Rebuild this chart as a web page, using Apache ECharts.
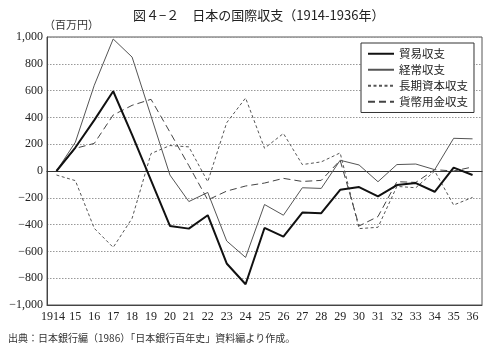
<!DOCTYPE html>
<html><head><meta charset="utf-8">
<script src="https://cdn.jsdelivr.net/npm/echarts@6/dist/echarts.min.js"></script>
<style>html,body{margin:0;padding:0;background:#fff;}#c{width:500px;height:355px;}</style>
</head><body><div id="c"></div>
<script>
const years = [1914,1915,1916,1917,1918,1919,1920,1921,1922,1923,1924,1925,1926,1927,1928,1929,1930,1931,1932,1933,1934,1935,1936];
const seriesNames = ['貿易収支','経常収支','長期資本収支','貨幣用金収支'];
const trade   = [0, 175, 380, 595, 270, -70, -410, -430, -330, -690, -845, -425, -490, -310, -315, -140, -120, -190, -105, -90, -155, 25, -30];
const current = [0, 215, 640, 985, 850, 410, -30, -228, -160, -522, -645, -250, -330, -125, -130, 80, 45, -80, 48, 52, 10, 244, 240];
const capital = [-30, -72, -428, -570, -353, 130, 190, 180, -80, 360, 545, 170, 280, 48, 68, 135, -430, -420, -115, -125, 0, -254, -197];
const gold    = [0, 169, 206, 418, 490, 535, 290, 40, -216, -150, -112, -90, -55, -78, -70, 80, -410, -340, -80, -85, 10, 0, 30];

const serif = '"Liberation Serif","DejaVu Serif",serif';
const cjk = '"Noto Sans CJK JP","Noto Sans",sans-serif';
const cats = years.map(String);
function fmtY(v){ const a=Math.abs(v); const s=a>=1000? (Math.floor(a/1000)+','+String(a%1000).padStart(3,'0')) : String(a); return (v<0?'−':'')+s; }

const chart = echarts.init(document.getElementById('c'), null, {renderer:'canvas'});
chart.setOption({
  backgroundColor:'#fff',
  animation:false,
  title:{ text:'図４−２　日本の国際収支（1914-1936年）', left:128, top:4,
    textStyle:{ fontFamily:cjk, fontSize:13, fontWeight:'normal', color:'#222'} },
  graphic:[
    {type:'text', left:44, top:19, style:{text:'（百万円）', font:'11px '+cjk, fill:'#333'}},
    {type:'text', left:8, top:333, style:{text:'出典：日本銀行編（1986）「日本銀行百年史」資料編より作成。', font:'10px '+cjk, fill:'#333'}}
  ],
  legend:{ orient:'vertical', left:361, top:43, data:seriesNames,
    itemWidth:26, itemHeight:12, itemGap:4.5, padding:[5,6,5,6],
    borderColor:'#333', borderWidth:1, backgroundColor:'#fff',
    itemStyle:{opacity:0, borderWidth:0},
    textStyle:{fontFamily:cjk, fontSize:11.5, color:'#222'} },
  grid:{ left:47, right:18, top:37, bottom:50, show:true, borderColor:'#555', borderWidth:1 },
  xAxis:[
    { type:'category', data:cats, boundaryGap:true, position:'bottom',
      axisLine:{onZero:false, lineStyle:{color:'#444'}},
      axisTick:{inside:true, alignWithLabel:true, length:4, lineStyle:{color:'#444'}},
      axisLabel:{ interval:0, margin:6, fontFamily:serif, fontSize:12, color:'#222',
        formatter:(v)=> v==='1914' ? '{a|1914}' : v.slice(2),
        rich:{ a:{ fontFamily:serif, fontSize:12, color:'#222', padding:[0,7,0,0] } } },
      splitLine:{show:false} },
    { type:'category', data:cats, boundaryGap:true, position:'bottom',
      axisLine:{onZero:true, lineStyle:{color:'#333', width:1.2}},
      axisTick:{inside:true, alignWithLabel:true, length:4, lineStyle:{color:'#444'}},
      axisLabel:{show:false}, splitLine:{show:false} }
  ],
  yAxis:{ type:'value', min:-1000, max:1000, interval:200,
    axisLine:{show:true, lineStyle:{color:'#444'}},
    axisTick:{show:false},
    axisLabel:{ fontFamily:serif, fontSize:12, color:'#222', margin:4, formatter:fmtY },
    splitLine:{ show:true, lineStyle:{color:'#999', type:[1.5,1.5], width:1} } },
  series:[
    { name:seriesNames[0], type:'line', data:trade, symbol:'none', xAxisIndex:0,
      lineStyle:{color:'#111', width:2}, itemStyle:{color:'#111'}, z:5 },
    { name:seriesNames[1], type:'line', data:current, symbol:'none', xAxisIndex:0,
      lineStyle:{color:'#555', width:1}, itemStyle:{color:'#555'}, z:4 },
    { name:seriesNames[2], type:'line', data:capital, symbol:'none', xAxisIndex:0,
      lineStyle:{color:'#555', width:1, type:[3,2.5]}, itemStyle:{color:'#555'}, z:3 },
    { name:seriesNames[3], type:'line', data:gold, symbol:'none', xAxisIndex:0,
      lineStyle:{color:'#444', width:1, type:[7,4]}, itemStyle:{color:'#444'}, z:3 }
  ]
});
</script></body></html>
